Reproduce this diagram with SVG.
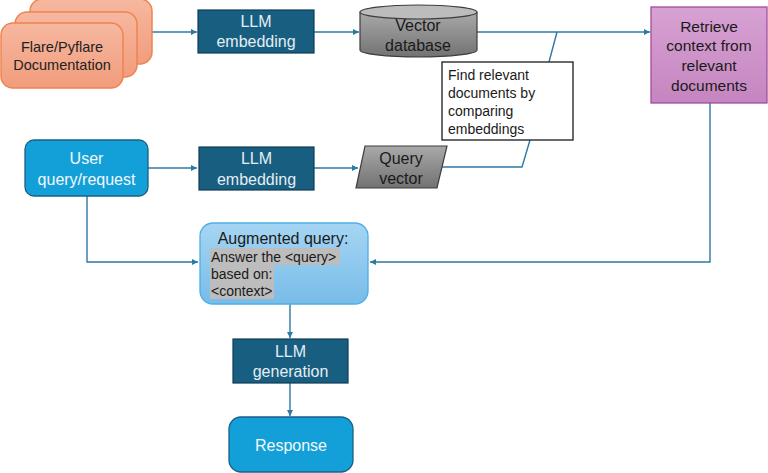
<svg xmlns="http://www.w3.org/2000/svg" width="768" height="473" viewBox="0 0 768 473">
<defs>
<linearGradient id="gOrange" x1="0" y1="0" x2="0" y2="1"><stop offset="0" stop-color="#f6b8a0"/><stop offset="1" stop-color="#f29c7c"/></linearGradient>
<linearGradient id="gGray" x1="0" y1="0" x2="0" y2="1"><stop offset="0" stop-color="#a9a9a9"/><stop offset="1" stop-color="#727272"/></linearGradient>
<linearGradient id="gPink" x1="0" y1="0" x2="0" y2="1"><stop offset="0" stop-color="#d7a2d3"/><stop offset="1" stop-color="#c585c0"/></linearGradient>
<linearGradient id="gBlue" x1="0" y1="0" x2="0" y2="1"><stop offset="0" stop-color="#a6d5f3"/><stop offset="1" stop-color="#78bce9"/></linearGradient>
<marker id="arr" viewBox="0 0 10 10" refX="10" refY="5" markerWidth="6" markerHeight="6" orient="auto" markerUnits="userSpaceOnUse"><path d="M0,0 L10,5 L0,10 z" fill="#2c7aa3"/></marker>
<style>
text{font-family:"Liberation Sans",Arial,sans-serif;}
.dark{fill:#185e80;stroke:#0e3d57;stroke-width:1.2;}
.dt{fill:#e4eef4;font-size:16px;text-anchor:middle;}
.bt{fill:#1a1a1a;font-size:16px;text-anchor:middle;}
.wt{fill:#f2f8fc;font-size:16px;text-anchor:middle;}
.blue{fill:#13a0d8;stroke:#1b5f85;stroke-width:1.3;}
.doc{fill:url(#gOrange);stroke:#ee8450;stroke-width:1.5;}
.conn path{fill:none;stroke:#2c7aa3;stroke-width:1.4;}
.hl{fill:#bdbdbd;}
</style>
</defs>

<g class="conn">
<path d="M152,32 H197" marker-end="url(#arr)"/>
<path d="M314,32 H359" marker-end="url(#arr)"/>
<path d="M477,32 H650" marker-end="url(#arr)"/>
<path d="M557,32 L549,62"/>
<path d="M442,167 H522 L530,140"/>
<path d="M148,168 H197" marker-end="url(#arr)"/>
<path d="M314,168 H358" marker-end="url(#arr)"/>
<path d="M87,196 V262 H198" marker-end="url(#arr)"/>
<path d="M710,103 V262 H370" marker-end="url(#arr)"/>
<path d="M290,304 V338" marker-end="url(#arr)"/>
<path d="M290,383 V416" marker-end="url(#arr)"/>
</g>

<g id="flare-docs">
<rect class="doc" x="30" y="-1" width="122" height="65" rx="12"/>
<rect class="doc" x="15" y="12" width="122" height="65" rx="12"/>
<rect class="doc" x="1" y="23" width="122" height="65" rx="12"/>
<text x="62" y="52" style="fill:#222;font-size:14.5px;text-anchor:middle">Flare/Pyflare</text>
<text x="62" y="70" style="fill:#222;font-size:14.5px;text-anchor:middle">Documentation</text>
</g>

<g id="llm-embedding-1">
<rect class="dark" x="198" y="10" width="116" height="43"/>
<text class="dt" x="256" y="27">LLM</text>
<text class="dt" x="256" y="47">embedding</text>
</g>

<g id="vector-db">
<path d="M360,12 V50 A58.5,7 0 0 0 477,50 V12" fill="url(#gGray)" stroke="#3d3d3d" stroke-width="1.2"/>
<ellipse cx="418.5" cy="12" rx="58.5" ry="7" fill="#bcbcbc" stroke="#3d3d3d" stroke-width="1.2"/>
<text class="bt" x="418" y="31">Vector</text>
<text class="bt" x="418" y="51">database</text>
</g>

<g id="retrieve">
<rect x="651" y="7" width="116" height="96" fill="url(#gPink)" stroke="#a24c9e" stroke-width="1.3"/>
<text class="bt" x="709" y="32" style="font-size:15.5px">Retrieve</text>
<text class="bt" x="709" y="51" style="font-size:15.5px">context from</text>
<text class="bt" x="709" y="71" style="font-size:15.5px">relevant</text>
<text class="bt" x="709" y="91" style="font-size:15.5px">documents</text>
</g>

<g id="find-relevant">
<rect x="442" y="62" width="131" height="78" fill="#ffffff" stroke="#1a1a1a" stroke-width="1.3"/>
<text x="448" y="80" style="fill:#1a1a1a;font-size:14px">Find relevant</text>
<text x="448" y="98" style="fill:#1a1a1a;font-size:14px">documents by</text>
<text x="448" y="116" style="fill:#1a1a1a;font-size:14px">comparing</text>
<text x="448" y="134" style="fill:#1a1a1a;font-size:14px">embeddings</text>
</g>

<g id="user-query">
<rect class="blue" x="25" y="140" width="123" height="56" rx="9"/>
<text class="wt" x="86.5" y="164">User</text>
<text class="wt" x="86.5" y="185">query/request</text>
</g>

<g id="llm-embedding-2">
<rect class="dark" x="199" y="147" width="115" height="43"/>
<text class="dt" x="256.5" y="164">LLM</text>
<text class="dt" x="256.5" y="185">embedding</text>
</g>

<g id="query-vector">
<polygon points="365,146 447,146 437,188 356,188" fill="url(#gGray)" stroke="#3d3d3d" stroke-width="1.2"/>
<text class="bt" x="401" y="164">Query</text>
<text class="bt" x="401" y="184">vector</text>
</g>

<g id="augmented">
<rect x="200" y="223" width="168" height="81" rx="13" fill="url(#gBlue)" stroke="#4eaee4" stroke-width="1.3"/>
<rect class="hl" x="210" y="248" width="130" height="17"/>
<rect class="hl" x="210" y="265" width="64" height="17"/>
<rect class="hl" x="210" y="282" width="64" height="17"/>
<text class="bt" x="283" y="244">Augmented query:</text>
<text x="211" y="262" style="fill:#1a1a1a;font-size:14px">Answer the &lt;query&gt;</text>
<text x="211" y="279" style="fill:#1a1a1a;font-size:14px">based on:</text>
<text x="211" y="296" style="fill:#1a1a1a;font-size:14px">&lt;context&gt;</text>
</g>

<g id="llm-generation">
<rect class="dark" x="233" y="339" width="115" height="44"/>
<text class="dt" x="290.5" y="357">LLM</text>
<text class="dt" x="290.5" y="377">generation</text>
</g>

<g id="response">
<rect class="blue" x="229" y="417" width="124" height="55" rx="12"/>
<text class="wt" x="291" y="451">Response</text>
</g>
</svg>
